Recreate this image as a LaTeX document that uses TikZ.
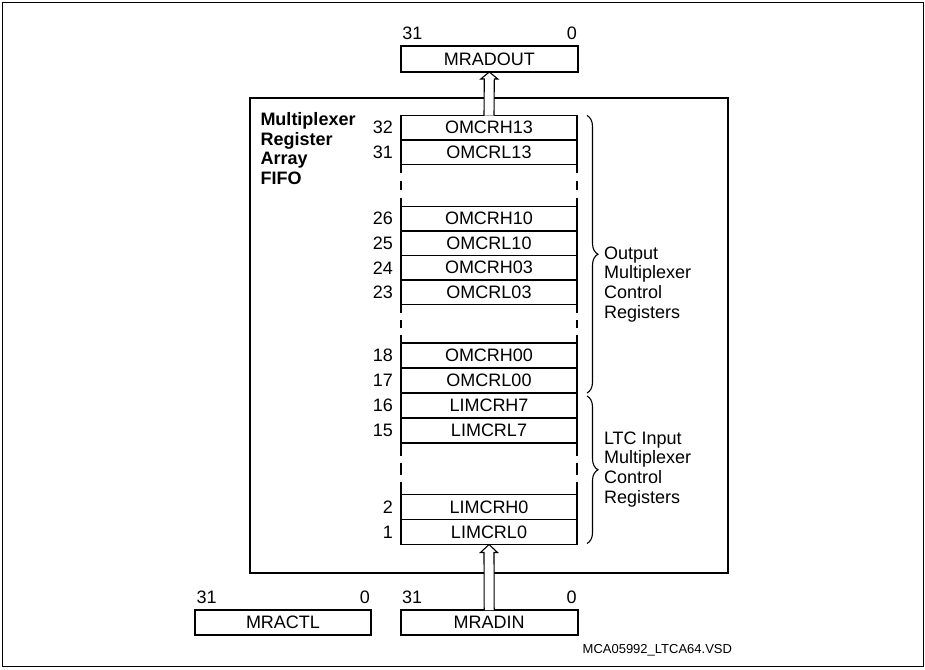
\documentclass[tikz,border=0pt]{standalone}
\usepackage{fontspec}
\setmainfont{Liberation Sans}
\usetikzlibrary{calc,decorations.pathreplacing}
\begin{document}
\begin{tikzpicture}[x=1pt,y=-1pt,
  every node/.style={inner sep=0pt, outer sep=0pt, font=\fontsize{18}{19.7}\selectfont},
  regbox/.style={draw, line width=1.8pt, minimum width=176pt, minimum height=24.5pt},
  regbig/.style={regbox, minimum height=25pt},
  numlbl/.style={anchor=east},
  bitlbl/.style={anchor=base west},
  bitlblr/.style={anchor=base east},
  gapline/.style={line width=2.8pt},
  hollow/.style={draw, fill=white, line width=1.1pt, line join=miter},
  bracestyle/.style={decorate, decoration={brace, amplitude=11pt}, line width=1.1pt},
  sidetext/.style={anchor=north west, align=left}]
\useasboundingbox (0,0) rectangle (925,669);
\draw[line width=1pt] (2.5,2.8) rectangle (923.5,666.5);

% main array frame
\node[draw, line width=1.8pt, minimum width=478pt, minimum height=475pt] (mra) at (489,335.5) {};
\node[sidetext, font=\bfseries\fontsize{18}{19.7}\selectfont] (title) at (260.5,112.5) {Multiplexer\\Register\\Array\\FIFO};

% external registers
\node[regbox, minimum width=177pt, minimum height=26pt] (mradout) at (489.3,59) {MRADOUT};
\node[regbox, minimum width=177pt, minimum height=25pt] (mradin) at (489.2,622.5) {MRADIN};
\node[regbox, minimum width=176pt, minimum height=25pt] (mractl) at (283,622.5) {MRACTL};
\foreach \r in {mradout,mradin,mractl}{
  \node[bitlbl] (\r-hi) at ($(\r.north west)+(1.5,-6.5)$) {31};
  \node[bitlblr] (\r-lo) at ($(\r.north east)+(-1,-6.5)$) {0};
}

% register rows
\node[regbox] (omcrh13) at (489,127.75) {OMCRH13};
\node[regbox] (omcrl13) at (489,152.25) {OMCRL13};
\node[regbox] (omcrh10) at (489,218.75) {OMCRH10};
\node[regbox] (omcrl10) at (489,243.25) {OMCRL10};
\node[regbox] (omcrh03) at (489,267.75) {OMCRH03};
\node[regbox] (omcrl03) at (489,292.25) {OMCRL03};
\node[regbig] (omcrh00) at (489,355.5) {OMCRH00};
\node[regbig] (omcrl00) at (489,380.5) {OMCRL00};
\node[regbig] (limcrh7) at (489,405.5) {LIMCRH7};
\node[regbig] (limcrl7) at (489,430.5) {LIMCRL7};
\node[regbig] (limcrh0) at (489,507) {LIMCRH0};
\node[regbig] (limcrl0) at (489,532) {LIMCRL0};

% row numbers
\foreach \r/\n in {omcrh13/32,omcrl13/31,omcrh10/26,omcrl10/25,omcrh03/24,omcrl03/23,
                   omcrh00/18,omcrl00/17,limcrh7/16,limcrl7/15,limcrh0/2,limcrl0/1}{
  \node[numlbl] (num\n) at ($(\r.west)+(-8,0)$) {\n};
}

% dashed gaps
\draw[gapline, dash pattern=on 8.5pt off 8pt] (omcrl13.south west) -- (omcrh10.north west);
\draw[gapline, dash pattern=on 8.5pt off 8pt] (omcrl13.south east) -- (omcrh10.north east);
\draw[gapline, dash pattern=on 8pt off 7.25pt] (omcrl03.south west) -- (omcrh00.north west);
\draw[gapline, dash pattern=on 8pt off 7.25pt] (omcrl03.south east) -- (omcrh00.north east);
\draw[gapline, dash pattern=on 12.5pt off 7pt] (limcrl7.south west) -- (limcrh0.north west);
\draw[gapline, dash pattern=on 12.5pt off 7pt] (limcrl7.south east) -- (limcrh0.north east);

% hollow arrows
\draw[hollow] ($(omcrh13.north)+(-5,0)$) -- ($(mradout.south)+(-5,7)$) -- ($(mradout.south)+(-8.5,7)$)
  -- (mradout.south) -- ($(mradout.south)+(8.5,7)$) -- ($(mradout.south)+(5,7)$) -- ($(omcrh13.north)+(5,0)$);
\draw[hollow] ($(mradin.north)+(-5,0)$) -- ($(limcrl0.south)+(-5,8)$) -- ($(limcrl0.south)+(-8.5,8)$)
  -- (limcrl0.south) -- ($(limcrl0.south)+(8.5,8)$) -- ($(limcrl0.south)+(5,8)$) -- ($(mradin.north)+(5,0)$);

% braces
\coordinate (b1top) at ($(omcrh13.north east)+(10,0)$);
\coordinate (b1bot) at ($(omcrl00.south east)+(10,0)$);
\coordinate (b2top) at ($(limcrh7.north east)+(10,3)$);
\coordinate (b2bot) at ($(limcrl0.south east)+(10,-1)$);
\draw[bracestyle] (b1top) -- (b1bot);
\draw[bracestyle] (b2top) -- (b2bot);
\node[sidetext] (omtext) at (604,246.5) {Output\\Multiplexer\\Control\\Registers};
\node[sidetext] (limtext) at (604,431.5) {LTC Input\\Multiplexer\\Control\\Registers};

% file name
\node[anchor=base east, font=\fontsize{13}{15}\selectfont] (fname) at (732,653) {MCA05992\_LTCA64.VSD};
\end{tikzpicture}
\end{document}
